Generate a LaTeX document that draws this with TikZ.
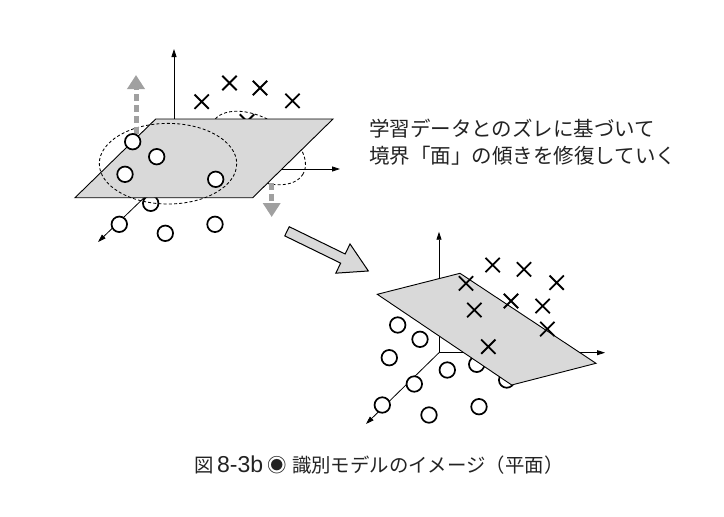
\documentclass[tikz,border=0pt]{standalone}
\usepackage{fontspec}
\setmainfont{Noto Sans CJK JP}
\newfontfamily\latinfont{Liberation Sans}
\usetikzlibrary{arrows.meta,shapes.misc}
\definecolor{planegray}{RGB}{217,217,217}
\definecolor{arrowgray}{RGB}{160,160,160}
\definecolor{textgray}{RGB}{35,35,35}
\begin{document}
\begin{tikzpicture}[x=1pt,y=-1pt,
  pt/.style={circle,draw,fill=white,line width=1.7pt,minimum size=15.5pt,inner sep=0pt},
  xm/.style={cross out,draw,line width=1.8pt,minimum size=12.5pt,inner sep=0pt},
  plane/.style={draw,fill=planegray,line width=0.9pt,line join=miter},
  axis/.style={line width=0.8pt,-{Triangle[length=8pt,width=5pt]}},
  hint/.style={draw,dash pattern=on 3pt off 2.2pt,line width=0.85pt},
  shiftarrow/.style={draw=arrowgray,line width=5pt,dash pattern=on 7pt off 4pt,-{Triangle[length=14pt,width=17pt,fill=arrowgray]}},
  bigarrow/.style={draw,fill=planegray,line width=1pt,line join=miter},
  txt/.style={anchor=base west,inner sep=0pt,text=textgray}
]
\fill[white] (0,0) rectangle (724,517);
\useasboundingbox (0,0) rectangle (724,517);

% ---------------- left diagram ----------------
\coordinate (O1) at (174,169);
\coordinate (Z1) at (174,49);
\coordinate (X1) at (340,169);
\coordinate (D1) at (98,242);
\draw[axis] (O1) -- (Z1);
\draw[axis] (O1) -- (X1);
\draw[axis] (O1) -- (D1);
% behind the plane
\node[xm] (lx5) at (247,121.5) {};
\node[pt] (lc5) at (150.7,203.3) {};
\draw[hint,rotate around={-30:(258,148)}] (258,148) ellipse [x radius=52, y radius=30];
% plane
\draw[plane] (155.7,119) -- (333,119) -- (252.7,197.7) -- (75,197.7) -- cycle;
% selection ellipse
\draw[hint] (168,163.7) ellipse [x radius=68.7, y radius=40.3];
% shift arrows
\draw[shiftarrow] (136,134) -- (136,75);
\draw[shiftarrow] (271.7,183) -- (271.7,217);
% crosses
\node[xm] (lx1) at (201.7,101.7) {};
\node[xm] (lx2) at (229.5,83) {};
\node[xm] (lx3) at (260,88) {};
\node[xm] (lx4) at (292.5,100.8) {};
% circles
\node[pt] (lc1) at (132.7,141.7) {};
\node[pt] (lc2) at (156.7,156.7) {};
\node[pt] (lc3) at (125,174.3) {};
\node[pt] (lc4) at (215.7,179.3) {};
\node[pt] (lc6) at (119.3,224.3) {};
\node[pt] (lc7) at (165.3,233.3) {};
\node[pt] (lc8) at (215,224.3) {};

% ---------------- transition arrow ----------------
\begin{scope}[shift={(287,231.3)},rotate=-26]
  \draw[bigarrow] (0,5.1) -- (62.2,5.1) -- (62.2,16.25) -- (90.5,0) -- (62.2,-16.25) -- (62.2,-5.1) -- (0,-5.1) -- cycle;
\end{scope}

% ---------------- right diagram ----------------
\coordinate (O2) at (439,352.7);
\coordinate (Z2) at (439,231.7);
\coordinate (X2) at (605,352.7);
\coordinate (D2) at (366,424);
\draw[axis] (O2) -- (Z2);
\draw[axis] (O2) -- (X2);
\draw[axis] (O2) -- (D2);
% behind the plane
\node[pt] (rc5) at (476.7,364.3) {};
\node[pt] (rc6) at (506.7,380) {};
% plane
\draw[plane] (377.3,294.3) -- (460,273.3) -- (596,363.3) -- (511.7,385) -- cycle;
% circles
\node[pt] (rc1) at (397.7,325) {};
\node[pt] (rc2) at (420,339.3) {};
\node[pt] (rc3) at (389.3,357.7) {};
\node[pt] (rc4) at (447.3,370) {};
\node[pt] (rc7) at (414.3,384) {};
\node[pt] (rc8) at (382.3,405) {};
\node[pt] (rc9) at (429,415) {};
\node[pt] (rc10) at (479,406.7) {};
% crosses
\node[xm] (rx1) at (492.7,265) {};
\node[xm] (rx2) at (524,269.3) {};
\node[xm] (rx3) at (556.7,282.7) {};
\node[xm] (rx4) at (466,283.3) {};
\node[xm] (rx5) at (511,301) {};
\node[xm] (rx6) at (542.7,306) {};
\node[xm] (rx7) at (474.3,310) {};
\node[xm] (rx8) at (547.3,329) {};
\node[xm] (rx9) at (488.3,346.7) {};

% ---------------- texts ----------------
\node[txt,font=\fontsize{20.5}{26}\selectfont] (t1) at (369,136.8) {学習データとのズレに基づいて};
\node[txt,font=\fontsize{20.5}{26}\selectfont] (t2) at (369,163) {境界「面」の傾きを修復していく};
\node[txt,font=\fontsize{19.4}{23}\selectfont] (cap) at (194,472.3)
  {\makebox[23pt][l]{図}\makebox[50pt][l]{\latinfont\fontsize{23}{23}\selectfont 8-3b}\makebox[25pt][l]{◉}識別モデルのイメージ（平面）};
\end{tikzpicture}
\end{document}
